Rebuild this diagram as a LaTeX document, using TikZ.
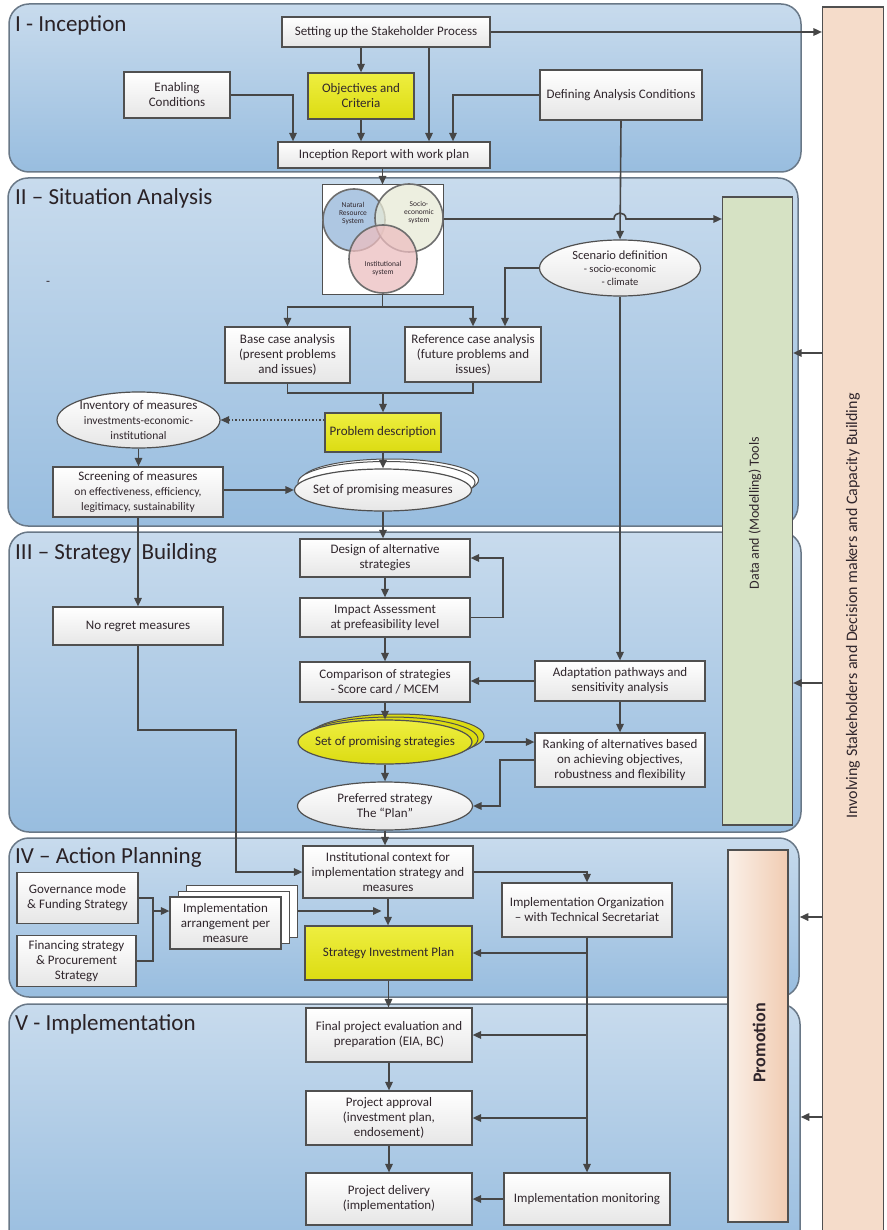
\documentclass[tikz,border=0pt]{standalone}
\usepackage{fontspec}
\setmainfont{Carlito}
\usetikzlibrary{arrows.meta,shapes.geometric}
\definecolor{paneltop}{RGB}{200,219,237}
\definecolor{panelbot}{RGB}{152,189,223}
\definecolor{panelborder}{RGB}{105,120,135}
\definecolor{boxborder}{RGB}{80,80,80}
\definecolor{boxbot}{RGB}{230,230,230}
\definecolor{yeltop}{RGB}{238,238,64}
\definecolor{yelbot}{RGB}{220,220,18}
\definecolor{txt}{RGB}{48,38,44}
\definecolor{titlecol}{RGB}{42,34,38}
\definecolor{arrcol}{RGB}{70,70,70}
\definecolor{peach}{RGB}{245,220,202}
\definecolor{promol}{RGB}{250,240,232}
\definecolor{promor}{RGB}{241,204,178}
\definecolor{greenbox}{RGB}{214,226,196}
\definecolor{natural}{RGB}{160,190,222}
\definecolor{socio}{RGB}{232,234,214}
\definecolor{instc}{RGB}{236,190,192}
\definecolor{vennline}{RGB}{110,110,110}
\newcommand\myboxfont{\fontsize{13}{15}\selectfont}
\newcommand\mysubfont{\fontsize{11.5}{14}\selectfont}
\newcommand\myscenfont{\fontsize{10.5}{12.5}\selectfont}
\newcommand\mytitlefont{\fontsize{23}{27}\selectfont}
\newcommand\myvennfont{\fontsize{7.5}{8}\selectfont}
\newcommand\mysidefont{\fontsize{16}{18}\selectfont}
\newcommand\mydatafont{\fontsize{14}{16}\selectfont}
\newcommand\mypromofont{\bfseries\fontsize{18}{20}\selectfont}
\begin{document}
\begin{tikzpicture}[x=1pt,y=-1pt,
  panel/.style={draw=panelborder, line width=1.5pt, rounded corners=20pt, top color=paneltop, bottom color=panelbot, inner sep=0pt},
  box/.style={draw=boxborder, line width=1.2pt, top color=white, bottom color=boxbot, align=center, text=txt, font=\myboxfont, inner sep=1pt},
  ybox/.style={box, top color=yeltop, bottom color=yelbot},
  ell/.style={ellipse, draw=boxborder, line width=1.2pt, top color=white, bottom color=boxbot, inner sep=0pt},
  yell/.style={ell, top color=yeltop, bottom color=yelbot},
  etext/.style={align=center, text=txt, font=\myboxfont, inner sep=0pt},
  stackbox/.style={draw=boxborder, line width=1pt, fill=white},
  conn/.style={draw=arrcol, line width=1.6pt},
  arr/.style={conn, -{Triangle[length=8.5pt,width=7.5pt]}},
  ptitle/.style={anchor=west, font=\mytitlefont, text=titlecol, inner sep=0pt},
  vtext/.style={align=center, font=\myvennfont, text=txt, inner sep=0pt},
  sidebox/.style={draw=boxborder, line width=1.2pt},
]
\useasboundingbox (0,0) rectangle (886,1230);
\clip (0,0) rectangle (886,1230);

% phase panels
\node[panel, minimum width=792pt, minimum height=168pt] (p1) at (405,88) {};
\node[panel, minimum width=790pt, minimum height=348pt] (p2) at (403,352) {};
\node[panel, minimum width=792pt, minimum height=300pt] (p3) at (405,682) {};
\node[panel, minimum width=790pt, minimum height=159pt] (p4) at (404,917.5) {};
\node[panel, minimum width=791pt, minimum height=250pt] (p5) at (404.5,1129) {};

\node[ptitle] (t1) at (15,25) {I - Inception};
\node[ptitle] (t2) at (15,198) {II – Situation Analysis};
\node[ptitle] (t3) at (15,553) {III – Strategy\ \ Building};
\node[ptitle] (t4) at (15,857) {IV – Action Planning};
\node[ptitle] (t5) at (15,1024) {V - Implementation};
\node[text=txt, font=\myboxfont] (dash) at (48,283) {-};

% side boxes
\node[sidebox, fill=peach, minimum width=61pt, minimum height=1235pt] (invol) at (853,624.5) {};
\node[rotate=90, font=\mysidefont, text=txt] (invollbl) at (853,606) {Involving Stakeholders and Decision makers and Capacity Building};
\node[sidebox, fill=greenbox, minimum width=70pt, minimum height=628pt] (data) at (757.5,511) {};
\node[rotate=90, font=\mydatafont, text=txt] (datalbl) at (755,513) {Data and (Modelling) Tools};
\node[sidebox, left color=promol, right color=promor, minimum width=60pt, minimum height=372pt] (promo) at (758,1036) {};
\node[rotate=90, font=\mypromofont, text=txt] (promolbl) at (759,1043) {Promotion};

% Phase I
\node[box, minimum width=208pt, minimum height=30pt] (set) at (386,32) {Setting up the Stakeholder Process};
\node[box, minimum width=106pt, minimum height=46pt] (enab) at (177,95) {Enabling\\Conditions};
\node[ybox, minimum width=106pt, minimum height=46pt] (obj) at (361,96) {Objectives and\\Criteria};
\node[box, minimum width=162pt, minimum height=50pt] (def) at (621,95) {Defining Analysis Conditions};
\node[box, minimum width=212pt, minimum height=26pt] (inc) at (384,155) {Inception Report with work plan};

% Phase II
\node[draw=boxborder, line width=1pt, fill=white, minimum width=121pt, minimum height=110pt] (venn) at (382.5,240) {};
\draw[draw=vennline, line width=1.6pt, fill=natural, fill opacity=0.85] (354,220) circle[radius=31];
\draw[draw=vennline, line width=1.6pt, fill=socio, fill opacity=0.75] (409,218) circle[radius=34];
\draw[draw=vennline, line width=1.6pt, fill=instc, fill opacity=0.75] (383,259) circle[radius=34];
\node[vtext] (vnat) at (353,214) {Natural\\Resource\\System};
\node[vtext] (vsoc) at (419,213) {Socio-\\economic\\system};
\node[vtext] (vins) at (383,269) {Institutional\\system};

\node[box, minimum width=125pt, minimum height=56pt] (base) at (287.5,355) {Base case analysis\\(present problems\\and issues)};
\node[box, minimum width=136pt, minimum height=55pt] (ref) at (473,354.5) {Reference case analysis\\(future problems and\\issues)};
\node[ell, minimum width=161pt, minimum height=56pt] (scen) at (620,268) {};
\node[etext, font=\fontsize{12.5}{13}\selectfont] (scent) at (620,268) {Scenario definition\\{\myscenfont - socio-economic}\\{\myscenfont - climate}};
\node[ybox, minimum width=116pt, minimum height=39pt] (prob) at (383,432.5) {Problem description};
\node[ell, minimum width=163pt, minimum height=56pt] (inv) at (138.5,420) {};
\node[etext] (invt) at (138.5,420) {Inventory of measures\\{\mysubfont investments-economic-}\\{\mysubfont institutional}};
\node[box, minimum width=170pt, minimum height=50pt] (scr) at (138,492) {Screening of measures\\{\mysubfont on effectiveness, efficiency,}\\{\mysubfont legitimacy, sustainability}};
\draw[draw=boxborder, line width=1pt, fill=white] (390,480) ellipse[x radius=88.5, y radius=21];
\draw[draw=boxborder, line width=1pt, fill=white] (386.5,482.5) ellipse[x radius=88.5, y radius=21];
\node[ell, minimum width=177pt, minimum height=42pt] (spm) at (383,490) {};
\node[etext] (spmt) at (383,490) {Set of promising measures};

% Phase III
\node[box, minimum width=170pt, minimum height=38pt] (design) at (385,558) {Design of alternative\\strategies};
\node[box, minimum width=170pt, minimum height=39pt] (impact) at (385,617.5) {Impact Assessment\\at prefeasibility level};
\node[box, minimum width=170pt, minimum height=38pt] (nore) at (138,626) {No regret measures};
\node[box, minimum width=170pt, minimum height=40pt] (comp) at (385,682) {Comparison of strategies\\- Score card / MCEM};
\node[box, minimum width=170pt, minimum height=40pt] (adapt) at (620,681) {Adaptation pathways and\\sensitivity analysis};
\node[box, minimum width=170pt, minimum height=54pt] (rank) at (620,760) {Ranking of alternatives based\\on achieving objectives,\\robustness and flexibility};
\draw[draw=boxborder, line width=1pt, fill=yelbot] (397,736) ellipse[x radius=87, y radius=22];
\draw[draw=boxborder, line width=1pt, fill=yelbot] (391,739) ellipse[x radius=87, y radius=22];
\node[yell, minimum width=174pt, minimum height=44pt] (sps) at (385,742) {};
\node[etext] (spst) at (385,742) {Set of promising strategies};
\node[ell, minimum width=175pt, minimum height=48pt] (pref) at (385,806) {};
\node[etext] (preft) at (385,806) {Preferred strategy\\The “Plan”};

% Phase IV
\node[box, minimum width=170pt, minimum height=52pt] (inst) at (388,872) {Institutional context for\\implementation strategy and\\measures};
\node[box, minimum width=170pt, minimum height=54pt] (org) at (587,910) {Implementation Organization\\– with Technical Secretariat};
\node[box, minimum width=121pt, minimum height=51pt] (gov) at (77.5,898) {Governance mode\\\& Funding Strategy};
\node[box, minimum width=119pt, minimum height=51pt] (fin) at (76.5,961) {Financing strategy\\\& Procurement\\Strategy};
\draw[stackbox] (186,885) rectangle (297,937);
\draw[stackbox] (178,891) rectangle (289,943);
\node[box, minimum width=111pt, minimum height=52pt] (impl) at (225.5,923) {Implementation\\arrangement per\\measure};
\node[ybox, minimum width=167pt, minimum height=54pt] (sip) at (388.5,953) {Strategy Investment Plan};

% Phase V
\node[box, minimum width=166pt, minimum height=54pt] (final) at (389,1035) {Final project evaluation and\\preparation (EIA, BC)};
\node[box, minimum width=166pt, minimum height=54pt] (appr) at (389,1118) {Project approval\\(investment plan,\\endosement)};
\node[box, minimum width=166pt, minimum height=52pt] (deliv) at (389,1199) {Project delivery\\(implementation)};
\node[box, minimum width=166pt, minimum height=52pt] (mon) at (587,1199) {Implementation monitoring};

% connectors phase I
\draw[arr] (set.south -| obj.north) -- (obj.north);
\draw[arr] (set.south -| 429,0) -- (inc.north -| 429,0);
\draw[arr] (enab.east) -| (inc.north -| 293,0);
\draw[arr] (obj.south) -- (inc.north -| obj.south);
\draw[arr] (def.west) -| (inc.north -| 453,0);
\draw[arr] (set.east) -- (invol.west |- set.east);
\draw[arr] (def.south) -- (scen.north);
\draw[arr] (inc.south -| venn.north) -- (venn.north);

% phase II
\draw[arr] (venn.east |- 0,219) -- (614,219) .. controls (614,211) and (626,211) .. (626,219) -- (data.west |- 0,219);
\draw[arr] (venn.south) |- (base.north |- 0,307) -- (base.north);
\draw[arr] (venn.south) |- (ref.north |- 0,307) -- (ref.north);
\draw[arr] (scen.west) -| (ref.north -| 505,0);
\draw[arr] (scen.south) -- (adapt.north);
\draw[conn] (base.south) |- (ref.south |- 0,393) -- (ref.south);
\draw[arr] (prob.north |- 0,393) -- (prob.north);
\draw[arr, dash pattern=on 1.5pt off 2pt, line width=1.2pt] (prob.west |- inv.east) -- (inv.east);
\draw[arr] (inv.south) -- (scr.north -| inv.south);
\draw[arr] (scr.east |- 0,490) -- (spm.west);
\draw[arr] (prob.south) -- (spm.north);
\draw[arr] (spm.south) -- (design.north -| spm.south);
\draw[arr] (scr.south) -- (nore.north);

% phase III
\draw[arr] (design.south) -- (impact.north);
\draw[arr] (impact.east) -| (design.east -| 503,0) -- (design.east);
\draw[arr] (impact.south) -- (comp.north);
\draw[arr] (adapt.west) -- (comp.east |- adapt.west);
\draw[arr] (adapt.south) -- (rank.north);
\draw[arr] (comp.south) -- (sps.north);
\draw[arr, shorten <=12pt] (sps.east) -- (rank.west |- sps.east);
\draw[arr] (rank.west) -| (pref.east -| 500,0) -- (pref.east);
\draw[arr] (sps.south) -- (pref.north);
\draw[arr] (pref.south) -- (inst.north -| pref.south);
\draw[arr] (nore.south) |- (236,730) |- (inst.west);

% phase IV
\draw[arr] (inst.east) -| (org.north);
\draw[conn] (gov.east) -| (fin.east -| 153,0) -- (fin.east);
\draw[arr] (gov.east -| 153,0) |- (impl.west |- 0,911);
\draw[arr, shorten <=16pt, shorten >=7pt] (impl.east |- 0,911) -- (sip.north |- 0,911);
\draw[arr] (inst.south) -- (sip.north -| inst.south);
\draw[arr] (org.south) |- (sip.east);
\draw[arr] (sip.south) -- (final.north -| sip.south);

% phase V
\draw[arr] (org.south) |- (final.east);
\draw[arr] (org.south) |- (appr.east);
\draw[arr] (org.south) -- (mon.north);
\draw[arr] (final.south) -- (appr.north);
\draw[arr] (appr.south) -- (deliv.north);
\draw[arr] (mon.west) -- (deliv.east);

% side arrows
\draw[arr] (invol.west |- 0,353) -- (data.east |- 0,353);
\draw[arr] (invol.west |- 0,683) -- (data.east |- 0,683);
\draw[arr] (invol.west |- 0,917) -- (p4.east |- 0,917);
\draw[arr] (invol.west |- 0,1117) -- (p5.east |- 0,1117);
\end{tikzpicture}
\end{document}
